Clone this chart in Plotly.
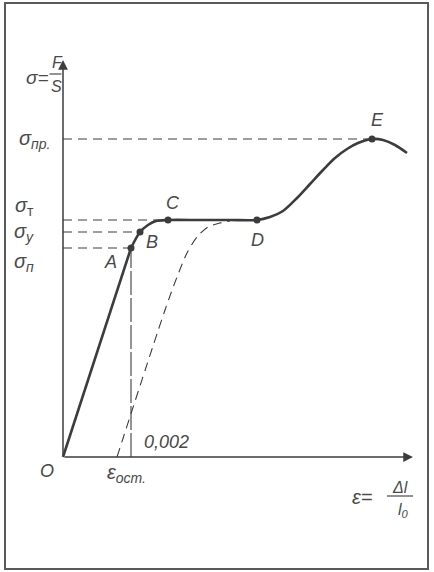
import plotly.graph_objects as go

# ---- data (arbitrary units: strain on x, stress on y) ----
elastic_x = [0, 6.8]
elastic_y = [0, 20.9]

plastic_x = [6.8, 7.7, 8.5, 9.3, 10.5, 13.7, 16.7, 19.4, 20.7, 22.0, 23.4, 24.7,
             26.0, 27.2, 28.4, 29.5, 30.9, 32.0, 33.2, 34.4]
plastic_y = [20.9, 22.5, 23.2, 23.6, 23.7, 23.7, 23.7, 23.7, 24.0, 24.6, 25.9, 27.3,
             28.7, 29.9, 30.8, 31.4, 31.8, 31.7, 31.2, 30.4]

unload_x = [5.4, 10.2, 11.4, 12.4, 13.4, 14.5, 15.7, 16.7]
unload_y = [0, 14.7, 18.0, 20.4, 22.0, 23.0, 23.4, 23.6]

point_names = ["A", "B", "C", "D", "E"]
point_x = [6.8, 7.7, 10.5, 19.4, 30.9]
point_y = [20.9, 22.5, 23.7, 23.7, 31.8]

level_labels = ["σ<sub>п</sub>", "σ<sub>у</sub>",
                "σ<sub><span style='font-style:normal'>т</span></sub>", "σ<sub>пр.</sub>"]
level_points = ["A", "B", "C", "E"]

eps_res = 5.4
y_axis_top = 39.7
x_axis_end = 35.0

INK = "#3c3c3c"
TXT = "#4a4a4a"
FONT = "Liberation Sans"

fig = go.Figure()

# main curve
fig.add_trace(go.Scatter(x=elastic_x, y=elastic_y, mode="lines",
                         line=dict(color=INK, width=2.6), hoverinfo="skip"))
fig.add_trace(go.Scatter(x=plastic_x, y=plastic_y, mode="lines",
                         line=dict(color=INK, width=2.6, shape="spline", smoothing=0.8),
                         hoverinfo="skip"))
# unloading dashed curve
fig.add_trace(go.Scatter(x=unload_x, y=unload_y, mode="lines",
                         line=dict(color=INK, width=1.1, dash="9px,6px",
                                   shape="spline", smoothing=0.8),
                         hoverinfo="skip"))

# dashed level lines
for name in level_points:
    i = point_names.index(name)
    fig.add_trace(go.Scatter(x=[0, point_x[i]], y=[point_y[i], point_y[i]], mode="lines",
                             line=dict(color=INK, width=1.1, dash="9px,6px"),
                             hoverinfo="skip"))
# vertical line from A
ia = point_names.index("A")
fig.add_trace(go.Scatter(x=[point_x[ia], point_x[ia]], y=[0, point_y[ia]], mode="lines",
                         line=dict(color=INK, width=1.1, dash="24px,3px"),
                         hoverinfo="skip"))

# points
fig.add_trace(go.Scatter(x=point_x, y=point_y, mode="markers",
                         marker=dict(color=INK, size=7), hoverinfo="skip"))

ann = []
# axes with arrows
ann.append(dict(x=0, y=y_axis_top, ax=0, ay=0, xref="x", yref="y", axref="x", ayref="y",
                text="", showarrow=True, arrowhead=2, arrowsize=1.3, arrowwidth=1.5,
                arrowcolor=INK))
ann.append(dict(x=x_axis_end, y=0, ax=0, ay=0, xref="x", yref="y", axref="x", ayref="y",
                text="", showarrow=True, arrowhead=2, arrowsize=1.3, arrowwidth=1.5,
                arrowcolor=INK))

def label(x, y, text, size=19, xs=0, ys=0):
    ann.append(dict(x=x, y=y, xref="x", yref="y", text=text,
                    showarrow=False, xshift=xs, yshift=ys,
                    font=dict(family=FONT, size=size, color=TXT, style="italic")))

# point labels
offsets = {"A": (-21, -14), "B": (12, -10), "C": (5, 17), "D": (0, -20), "E": (5, 19)}
for n, x, y in zip(point_names, point_x, point_y):
    dx, dy = offsets[n]
    label(x, y, n, 18, dx, dy)

# stress level labels
lvl_off = {"A": -14, "B": 0, "C": 14, "E": 0}
for t, n in zip(level_labels, level_points):
    i = point_names.index(n)
    xs = -39 if n != "E" else -29
    label(0, point_y[i], t, 20, xs, lvl_off[n])

label(0, 0, "O", 18, -16, -14)
label(eps_res, 0, "ε<sub>ост.</sub>", 20, 9, -16)
label(point_x[ia], 0, "0,002", 18, 35, 15)

# y-axis title sigma = F/S
label(0, y_axis_top, "σ=", 19, -26, -17)
label(0, y_axis_top, "F", 16, -6, -2)
label(0, y_axis_top, "S", 16, -7, -26)
# x-axis title eps = dl/l0
label(x_axis_end, 0, "ε=", 20, -51, -40)
label(x_axis_end, 0, "Δl", 16, -13, -30)
label(x_axis_end, 0, "l<sub>0</sub>", 16, -10, -53)

shapes = [
    # fraction bars
    dict(type="line", xref="x", yref="y", x0=-1.35, x1=-0.15, y0=38.3, y1=38.3,
         line=dict(color=TXT, width=1.2)),
    dict(type="line", xref="x", yref="y", x0=32.4, x1=35.0, y0=-3.9, y1=-3.9,
         line=dict(color=TXT, width=1.2)),
    # frame
    dict(type="rect", xref="paper", yref="paper", x0=5/434, x1=428/434,
         y0=1 - 569/572, y1=1 - 3/572, line=dict(color="#5a5a5a", width=2)),
]

fig.update_layout(
    width=434, height=572,
    margin=dict(l=0, r=0, t=0, b=0),
    paper_bgcolor="white", plot_bgcolor="white",
    showlegend=False,
    xaxis=dict(range=[-6.3, 37.1], visible=False, fixedrange=True),
    yaxis=dict(range=[-11.5, 45.7], visible=False, fixedrange=True),
    annotations=ann, shapes=shapes,
)

fig.write_html("out.html", config={"displayModeBar": False},
               post_script="document.body.style.margin='0';document.body.style.overflow='hidden';")
